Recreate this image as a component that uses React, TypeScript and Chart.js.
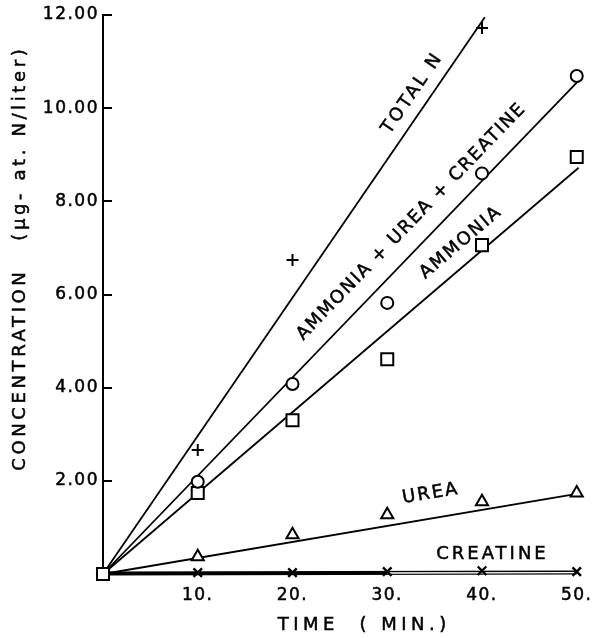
import React, { useEffect, useRef } from 'react';
import { Chart, registerables } from 'chart.js';

Chart.register(...registerables);

// ---- data ----
const times = [10, 20, 30, 40, 50];
const ammoniaTimes = [0, 10, 20, 30, 40, 50];
const ammoniaValues = [0, 1.74, 3.3, 4.61, 7.06, 8.95];
const sumValues = [1.98, 4.08, 5.82, 8.6, 10.69];
const totalNTimes = [10, 20, 40];
const totalNValues = [2.66, 6.74, 11.72];
const ureaValues = [0.37, 0.84, 1.27, 1.55, 1.74];
const creatineValues = [0.03, 0.03, 0.05, 0.07, 0.05];

// fitted straight lines (end points)
const totalNFitX = [0, 40.3];
const totalNFitY = [0, 11.95];
const sumFitX = [0, 50];
const sumFitY = [0, 10.55];
const ammoniaFitX = [0, 50.2];
const ammoniaFitY = [0, 8.72];
const ureaFitX = [0, 50];
const ureaFitY = [0, 1.72];
const creatineFitX = [0, 50];
const creatineFitY = [0.01, 0.03];
const creatineHollowX = [30, 50];
const creatineHollowY = [0.022, 0.03];

const xTickValues = [10, 20, 30, 40, 50];
const xTickLabels = ['10.', '20.', '30.', '40.', '50.'];
const yTickValues = [2, 4, 6, 8, 10, 12];
const yTickLabels = ['2.00', '4.00', '6.00', '8.00', '10.00', '12.00'];

const lineLabels = ['TOTAL N', 'AMMONIA + UREA + CREATINE', 'AMMONIA', 'UREA', 'CREATINE'];
const xTitle = 'TIME  ( MIN.)';
const yTitle = 'CONCENTRATION   (\u00b5g- at. N/liter)';

const FONT = '"DejaVu Sans", sans-serif';

const zip = (xs: number[], ys: number[]) => xs.map((x, i) => ({ x, y: ys[i] }));

const fits: [number[], number[]][] = [
  [totalNFitX, totalNFitY],
  [sumFitX, sumFitY],
  [ammoniaFitX, ammoniaFitY],
  [ureaFitX, ureaFitY],
  [creatineFitX, creatineFitY],
];

// label anchor (data coords of text centre) and which fit gives its angle
const labelAnchors = [
  { x: 32.6, y: 10.3, fit: 0, horizontal: false, spacing: 2.6 },
  { x: 32.5, y: 7.55, fit: 1, horizontal: false, spacing: 1.7 },
  { x: 37.7, y: 7.1, fit: 2, horizontal: false, spacing: 1.9 },
  { x: 34.5, y: 1.72, fit: 3, horizontal: false, spacing: 2 },
  { x: 40.95, y: 0.43, fit: 4, horizontal: true, spacing: 3 },
];

function drawSpaced(ctx: CanvasRenderingContext2D, text: string, x: number, y: number, spacing: number) {
  ctx.letterSpacing = spacing + 'px';
  ctx.textAlign = 'center';
  ctx.textBaseline = 'middle';
  ctx.fillText(text, x + spacing / 2, y);
  ctx.strokeText(text, x + spacing / 2, y);
}

const annotPlugin = {
  id: 'annot',
  beforeDraw(chart: any) {
    chart.ctx.letterSpacing = '1.5px';
  },
  afterDraw(chart: any) {
    const ctx: CanvasRenderingContext2D = chart.ctx;
    const { left } = chart.chartArea;
    const xs = chart.scales.x;
    const ys = chart.scales.y;
    ctx.save();
    // inward tick marks on y axis
    ctx.strokeStyle = '#000';
    ctx.lineWidth = 2;
    ctx.beginPath();
    yTickValues.forEach((v) => {
      const py = Math.round(ys.getPixelForValue(v));
      ctx.moveTo(left, py);
      ctx.lineTo(left + 9, py);
    });
    ctx.stroke();

    ctx.fillStyle = '#000';
    ctx.lineWidth = 0.5;
    ctx.font = '18px ' + FONT;
    lineLabels.forEach((t, i) => {
      const a = labelAnchors[i];
      const [fx, fy] = fits[a.fit];
      const px1 = xs.getPixelForValue(fx[0]);
      const py1 = ys.getPixelForValue(fy[0]);
      const px2 = xs.getPixelForValue(fx[1]);
      const py2 = ys.getPixelForValue(fy[1]);
      const ang = a.horizontal ? 0 : Math.atan2(py2 - py1, px2 - px1);
      ctx.save();
      ctx.translate(xs.getPixelForValue(a.x), ys.getPixelForValue(a.y));
      ctx.rotate(ang);
      drawSpaced(ctx, t, 0, 0, a.spacing);
      ctx.restore();
    });

    // axis titles
    ctx.font = '18px ' + FONT;
    drawSpaced(ctx, xTitle, 362, 625, 4.5);
    ctx.save();
    ctx.translate(20, 260);
    ctx.rotate(-Math.PI / 2);
    ctx.font = '18px ' + FONT;
    drawSpaced(ctx, yTitle, 0, 0, 3.6);
    ctx.restore();

    ctx.restore();
    ctx.letterSpacing = '0px';
  },
};

export default function App() {
  const ref = useRef<HTMLCanvasElement | null>(null);
  useEffect(() => {
    if (!ref.current) return;
    const markerBase = { showLine: false, borderColor: '#000', backgroundColor: '#fff', clip: false as any };
    const lineBase = {
      showLine: true,
      pointRadius: 0,
      borderColor: '#000',
      borderWidth: 1.8,
      clip: false as any,
      tension: 0,
    };
    const chart = new Chart(ref.current, {
      type: 'scatter',
      data: {
        datasets: [
          { ...markerBase, label: 'sum', data: zip(times, sumValues), pointStyle: 'circle', pointRadius: 6, borderWidth: 2 },
          { ...markerBase, label: 'ammonia', data: zip(ammoniaTimes, ammoniaValues), pointStyle: 'rect', pointRadius: 8.5, borderWidth: 2 },
          { ...markerBase, label: 'totalN', data: zip(totalNTimes, totalNValues), pointStyle: 'cross', pointRadius: 6, borderWidth: 2 },
          { ...markerBase, label: 'urea', data: zip(times, ureaValues), pointStyle: 'triangle', pointRadius: 7, borderWidth: 2 },
          { ...markerBase, label: 'creatine', data: zip(times, creatineValues), pointStyle: 'crossRot', pointRadius: 6, borderWidth: 2.4 },
          { ...lineBase, label: 'creatineHollow', data: zip(creatineHollowX, creatineHollowY), borderColor: '#fff', borderWidth: 1.4 },
          { ...lineBase, label: 'creatineFit', data: zip(creatineFitX, creatineFitY), borderWidth: 4 },
          { ...lineBase, label: 'totalNFit', data: zip(totalNFitX, totalNFitY) },
          { ...lineBase, label: 'sumFit', data: zip(sumFitX, sumFitY) },
          { ...lineBase, label: 'ammoniaFit', data: zip(ammoniaFitX, ammoniaFitY) },
          { ...lineBase, label: 'ureaFit', data: zip(ureaFitX, ureaFitY) },
        ] as any,
      },
      options: {
        animation: false,
        responsive: false,
        devicePixelRatio: 1,
        layout: { autoPadding: false, padding: { top: 15, right: 2, bottom: 0, left: 0 } },
        plugins: { legend: { display: false }, tooltip: { enabled: false } },
        events: [],
        scales: {
          x: {
            type: 'linear',
            min: 0,
            max: 51.4,
            grid: { display: false, drawTicks: false },
            border: { display: false },
            ticks: {
              color: '#000',
              textStrokeColor: '#000',
              textStrokeWidth: 0.5,
              font: { family: FONT, size: 17 },
              padding: 11,
              maxRotation: 0,
              callback: (v: any, i: number) => xTickLabels[i] ?? '',
            },
            afterBuildTicks: (s: any) => {
              s.ticks = xTickValues.map((v) => ({ value: v }));
            },
            afterFit: (s: any) => {
              s.height = 64;
              s.paddingLeft = 0;
              s.paddingRight = 0;
            },
          },
          y: {
            type: 'linear',
            min: 0,
            max: 12,
            grid: { display: false, drawTicks: false },
            border: { display: true, color: '#000', width: 2 },
            ticks: {
              color: '#000',
              textStrokeColor: '#000',
              textStrokeWidth: 0.5,
              font: { family: FONT, size: 17 },
              padding: 4,
              callback: (v: any, i: number) => yTickLabels[i] ?? '',
            },
            afterBuildTicks: (s: any) => {
              s.ticks = yTickValues.map((v) => ({ value: v }));
            },
            afterFit: (s: any) => {
              s.width = 103;
              s.paddingTop = 0;
              s.paddingBottom = 0;
            },
          },
        },
      },
      plugins: [annotPlugin],
    });
    return () => chart.destroy();
  }, []);
  return (
    <div style={{ position: 'absolute', left: 0, top: 0, width: 592, height: 638, background: '#fff' }}>
      <canvas ref={ref} width={592} height={638} style={{ display: 'block' }} />
    </div>
  );
}
